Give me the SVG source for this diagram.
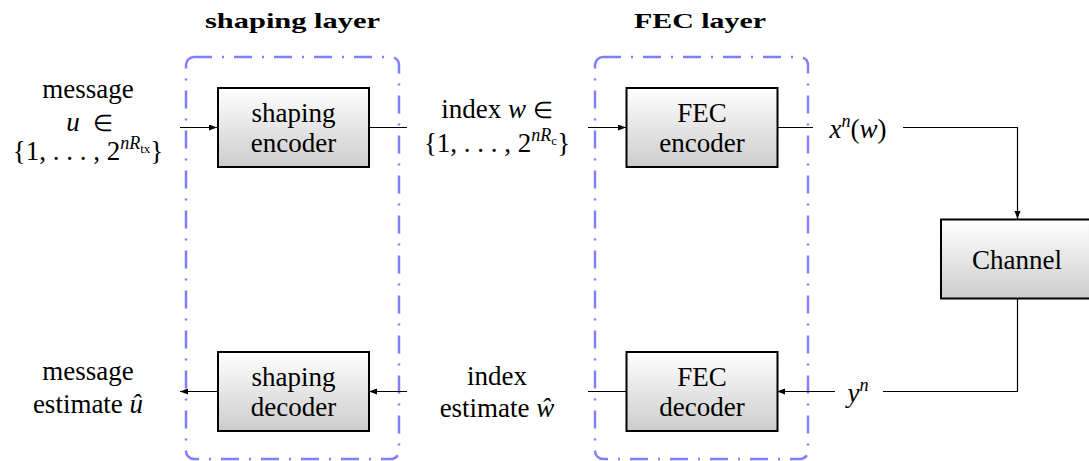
<svg xmlns="http://www.w3.org/2000/svg" width="1089" height="461" viewBox="0 0 1089 461">
<style>
text{font-family:"Liberation Serif","Times New Roman",serif;font-size:27px;fill:#000;text-anchor:middle}
.title{font-weight:bold;font-size:22px}
.it{font-style:italic}
.sym{font-size:23px}
.box{fill:url(#g);stroke:#000;stroke-width:2}
.layer{fill:none;stroke:#8080ff;stroke-width:2.5;stroke-dasharray:18 10 2 10}
.conn{fill:none;stroke:#000;stroke-width:1.2}
.arr{marker-end:url(#ah)}
</style>
<defs>
<linearGradient id="g" x1="0" y1="0" x2="0" y2="1">
<stop offset="0" stop-color="#ffffff"/>
<stop offset="1" stop-color="#cccccc"/>
</linearGradient>
<marker id="ah" markerUnits="userSpaceOnUse" markerWidth="9" markerHeight="7" refX="8" refY="3" orient="auto">
<path d="M0,0 L8,3 L0,6 z" fill="#000"/>
</marker>
</defs>

<g id="shaping-layer">
<rect class="layer" x="186" y="57" width="213" height="402" rx="8"/>
<text class="title" x="292.5" y="28" textLength="175" lengthAdjust="spacingAndGlyphs">shaping layer</text>
</g>
<g id="fec-layer">
<rect class="layer" x="595" y="57" width="213" height="402" rx="8"/>
<text class="title" x="700" y="28" textLength="132" lengthAdjust="spacingAndGlyphs">FEC layer</text>
</g>

<g id="connectors">
<path class="conn arr" d="M180,127.5 H217"/>
<path class="conn" d="M369,127.5 H407"/>
<path class="conn arr" d="M588,127.5 H626"/>
<path class="conn" d="M777,127.5 H813"/>
<path class="conn arr" d="M903,127.5 H1017.5 V219"/>
<path class="conn" d="M1017.5,299 V391.5 H883"/>
<path class="conn arr" d="M835,391.5 H777"/>
<path class="conn" d="M626,391.5 H588"/>
<path class="conn arr" d="M407,391.5 H369"/>
<path class="conn arr" d="M217,391.5 H180"/>
</g>

<g id="shaping-encoder">
<rect class="box" x="218" y="88" width="151" height="79"/>
<text x="293.5" y="122">shaping</text>
<text x="293.5" y="152">encoder</text>
</g>
<g id="fec-encoder">
<rect class="box" x="626.5" y="88" width="151" height="79"/>
<text x="702" y="122">FEC</text>
<text x="702" y="152">encoder</text>
</g>
<g id="channel">
<rect class="box" x="941" y="219.5" width="150" height="79"/>
<text x="1017" y="269">Channel</text>
</g>
<g id="fec-decoder">
<rect class="box" x="626.5" y="352" width="151" height="79"/>
<text x="702" y="386">FEC</text>
<text x="702" y="416">decoder</text>
</g>
<g id="shaping-decoder">
<rect class="box" x="218" y="352" width="151" height="79"/>
<text x="293.5" y="386">shaping</text>
<text x="293.5" y="416">decoder</text>
</g>

<g id="labels">
<text x="88" y="98">message</text>
<text x="73" y="131" class="it">u</text>
<text x="103" y="131" class="sym">∈</text>
<text x="88" y="160">{1, . . . , 2<tspan class="it" font-size="18" dy="-11">nR</tspan><tspan font-size="13" dy="4">tx</tspan><tspan dy="7">}</tspan></text>
<text x="497" y="118">index <tspan class="it">w</tspan> <tspan class="sym">∈</tspan></text>
<text x="497" y="152">{1, . . . , 2<tspan class="it" font-size="18" dy="-11">nR</tspan><tspan font-size="13" dy="4">c</tspan><tspan dy="7">}</tspan></text>
<text x="858" y="138"><tspan class="it">x</tspan><tspan class="it" font-size="18" dy="-11">n</tspan><tspan dy="11">(</tspan><tspan class="it">w</tspan>)</text>
<text x="858" y="402"><tspan class="it">y</tspan><tspan class="it" font-size="18" dy="-11">n</tspan></text>
<text x="88" y="380">message</text>
<text x="88" y="413">estimate <tspan class="it">û</tspan></text>
<text x="497" y="385">index</text>
<text x="497" y="417">estimate <tspan class="it">ŵ</tspan></text>
</g>
</svg>
